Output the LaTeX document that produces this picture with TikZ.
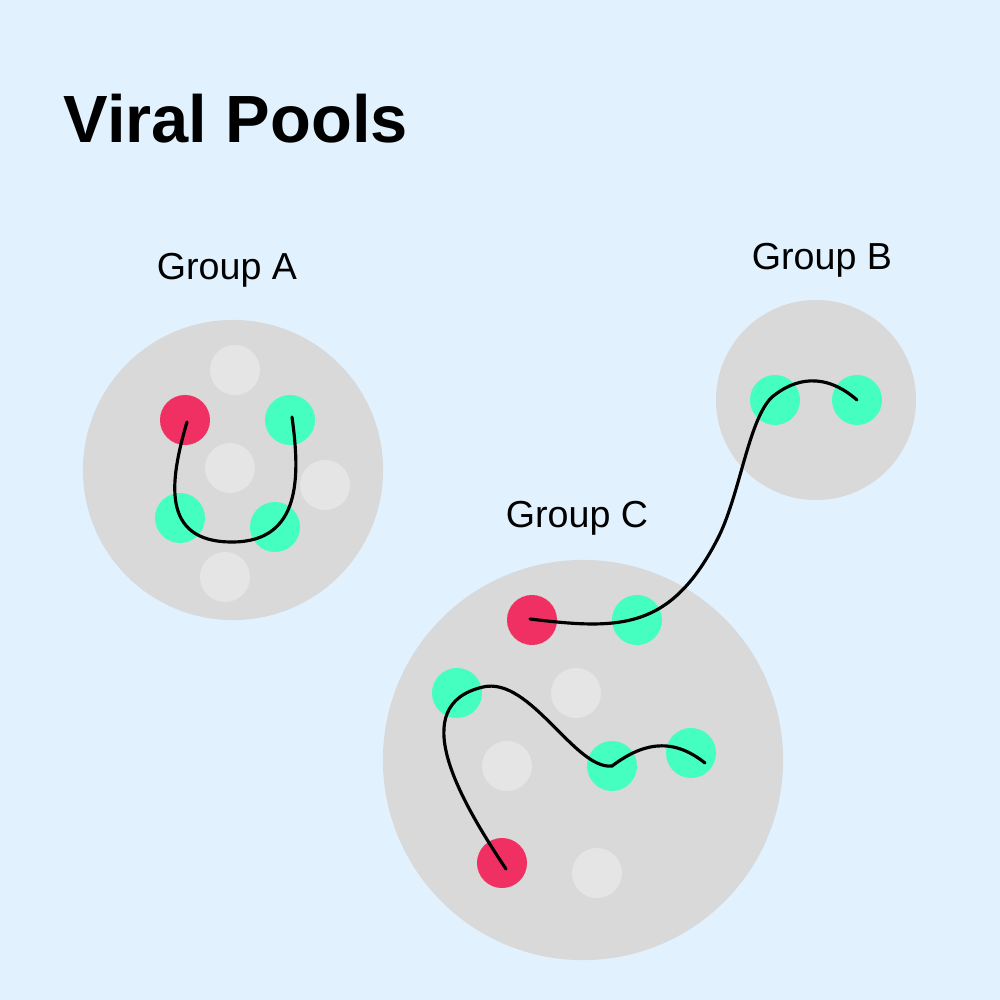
\documentclass[tikz,border=0pt]{standalone}
\usepackage{fontspec}
\setmainfont{Liberation Sans}
\usepackage{xcolor}
\usetikzlibrary{calc, positioning}

\definecolor{skyback}{HTML}{E1F2FE}
\definecolor{poolgray}{HTML}{D9D9D9}
\definecolor{idlegray}{HTML}{E5E5E5}
\definecolor{sickred}{HTML}{F03062}
\definecolor{wellgreen}{HTML}{45FFC0}

\begin{document}
\begin{tikzpicture}[x=0.01cm, y=-0.01cm,
    pool/.style={circle, fill=poolgray, inner sep=0pt},
    dot/.style={circle, minimum size=0.5cm, inner sep=0pt},
    sick/.style={dot, fill=sickred},
    well/.style={dot, fill=wellgreen},
    idle/.style={dot, fill=idlegray},
    link/.style={line width=0.9pt, line cap=round},
    grouplabel/.style={anchor=base, inner sep=0pt, font=\fontsize{10.7}{13}\selectfont}]

    % =================================================================
    % 1. NỀN VÀ TIÊU ĐỀ
    % =================================================================
    \fill[skyback] (0,0) rectangle (1000,1000);
    \useasboundingbox (0,0) rectangle (1000,1000);

    \node[anchor=base west, inner sep=0pt, font=\fontsize{19}{23}\selectfont\bfseries]
        (title) at (63,142) {Viral Pools};

    % =================================================================
    % 2. CÁC VÒNG TRÒN NHÓM
    % =================================================================
    \node[pool, minimum size=3cm] (poolA) at (233,470) {};
    \node[pool, minimum size=2cm] (poolB) at (816,400) {};
    \node[pool, minimum size=4cm] (poolC) at (583,760) {};

    \node[grouplabel] (labA) at (227,279) {Group A};
    \node[grouplabel] (labB) at (822,269) {Group B};
    \node[grouplabel] (labC) at (577,527) {Group C};

    % =================================================================
    % 3. CÁC CHẤM TRONG NHÓM A
    % =================================================================
    \node[idle] (iA1) at (235,370) {};
    \node[sick] (rA1) at (185,420) {};
    \node[well] (gA1) at (290,420) {};
    \node[idle] (iA2) at (230,468) {};
    \node[idle] (iA3) at (325,485) {};
    \node[well] (gA2) at (180,518) {};
    \node[well] (gA3) at (275,527) {};
    \node[idle] (iA4) at (225,577) {};

    % =================================================================
    % 4. CÁC CHẤM TRONG NHÓM B VÀ C
    % =================================================================
    \node[well] (gB1) at (775,400) {};
    \node[well] (gB2) at (857,400) {};

    \node[sick] (rC1) at (532,620) {};
    \node[well] (gC1) at (637,620) {};
    \node[well] (gC2) at (457,693) {};
    \node[idle] (iC1) at (576,693) {};
    \node[idle] (iC2) at (507,766) {};
    \node[well] (gC3) at (612,766) {};
    \node[well] (gC4) at (691,753) {};
    \node[sick] (rC2) at (502,863) {};
    \node[idle] (iC3) at (597,873) {};

    % =================================================================
    % 5. CÁC ĐƯỜNG LÂY NHIỄM
    % =================================================================
    \coordinate (a1) at (232,542);
    \coordinate (b1) at (717,540);
    \coordinate (b2) at (772,397);
    \coordinate (c1) at (483,687);

    % Nhóm A: từ chấm đỏ vòng xuống rồi lên chấm xanh
    \draw[link] ($(rA1.center)+(2,2)$) .. controls (170,480) and (160,542) .. (a1)
        .. controls (302,542) and (300,475) .. ($(gA1.center)+(2,-3)$);

    % Từ nhóm C sang nhóm B
    \draw[link] ($(rC1.center)+(-2,-1)$) .. controls (620,630) and (670,630) .. (b1)
        .. controls (740,496) and (748,420) .. (b2)
        .. controls (795,378) and (825,372) .. (gB2.center);

    % Nhóm C: từ chấm đỏ dưới lên và sang phải
    \draw[link] ($(rC2.center)+(4,6)$) .. controls (460,800) and (405,705) .. (c1)
        .. controls (530,676) and (575,770) .. (gC3.center)
        .. controls (640,745) and (670,735) .. ($(gC4.center)+(14,10)$);

\end{tikzpicture}
\end{document}
